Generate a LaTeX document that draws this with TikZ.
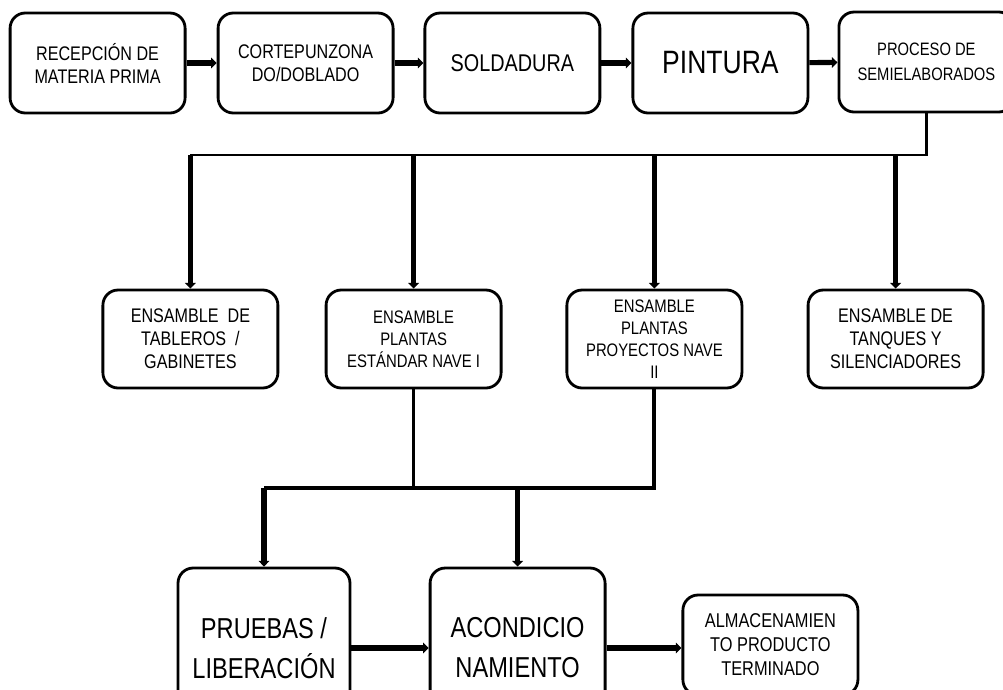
\documentclass[tikz,border=0pt]{standalone}
\usepackage{fontspec}
\setmainfont{Liberation Sans}[FakeStretch=0.82]
\usepackage{tikz}
\usetikzlibrary{positioning, arrows.meta, shapes}
\tikzstyle{box} = [draw, line width=2pt, rounded corners=0.38cm, align=center, minimum width=4.375cm]
\tikzstyle{arrow} = [line width=3.6pt, -{Triangle[length=4pt,width=7.5pt]}]
\tikzstyle{link} = [line width=2pt]
\def\fsnormal{\fontsize{14}{16.4}\selectfont}
\def\fssmall{\fontsize{12.9}{15.6}\selectfont}
\def\fsbig{\fontsize{20.5}{28.4}\selectfont}

\begin{document}
\begin{tikzpicture}
        \useasboundingbox (0,0) rectangle (25.075,-17.225);

        % first line of the process
        \node[box, minimum height=2.5cm, font=\fsnormal] (recep) at (2.44,-1.575) {RECEPCIÓN DE\\MATERIA PRIMA};
        \node[box, minimum height=2.5cm, font=\fsnormal] (corte) at (7.64,-1.575) {CORTEPUNZONA\\DO/DOBLADO};
        \node[box, minimum height=2.5cm, font=\fontsize{17.2}{20}\selectfont] (sold) at (12.81,-1.575) {SOLDADURA};
        \node[box, minimum height=2.5cm, font=\fontsize{23}{26}\selectfont] (pint) at (18.01,-1.575) {PINTURA};
        \node[box, minimum height=2.5cm, font=\fontsize{12.8}{17.5}\selectfont] (semi) at (23.16,-1.55) {PROCESO DE\\SEMIELABORADOS};

        % assembly lines
        \node[box, minimum height=2.45cm, font=\fsnormal] (tabl) at (4.76,-8.475) {ENSAMBLE~~DE\\TABLEROS~~/\\GABINETES};
        \node[box, minimum height=2.45cm, font=\fssmall] (nave1) at (10.34,-8.475) {ENSAMBLE\\PLANTAS\\ESTÁNDAR NAVE I};
        \node[box, minimum height=2.45cm, font=\fssmall] (nave2) at (16.36,-8.475) {ENSAMBLE\\PLANTAS\\PROYECTOS NAVE\\II};
        \node[box, minimum height=2.45cm, font=\fsnormal] (tanq) at (22.39,-8.475) {ENSAMBLE DE\\TANQUES Y\\SILENCIADORES};

        % last steps
        \node[box, minimum width=4.3cm, minimum height=4cm, font=\fsbig] (prue) at (6.6,-16.2) {PRUEBAS /\\LIBERACIÓN};
        \node[box, minimum height=4cm, font=\fsbig] (acon) at (12.94,-16.2) {ACONDICIO\\NAMIENTO};
        \node[box, minimum height=2.5cm, font=\fontsize{14.2}{17}\selectfont] (alma) at (19.26,-16.125) {ALMACENAMIEN\\TO PRODUCTO\\TERMINADO};

        \coordinate (split) at (0,-3.875);
        \coordinate (join) at (0,-12.2);

        \draw[arrow] (recep) -- (corte);
        \draw[arrow] (corte) -- (sold);
        \draw[arrow] (sold) -- (pint);
        \draw[arrow] (pint) -- (semi);

        \draw[link] (semi.south) |- (tabl |- split);
        \foreach \n in {tabl, nave1, nave2, tanq}
            \draw[arrow] (\n |- split) -- (\n.north);

        \draw[link] (nave1.south) -- (nave1 |- join);
        \draw[link, line width=2.8pt] (nave2.south) |- (prue |- join);
        \draw[arrow] (prue |- join) -- (prue.north);
        \draw[arrow] (acon |- join) -- (acon.north);

        \draw[arrow] (prue) -- (acon);
        \draw[arrow] (acon.east) -- (acon.east -| alma.west);
    \end{tikzpicture}
\end{document}
